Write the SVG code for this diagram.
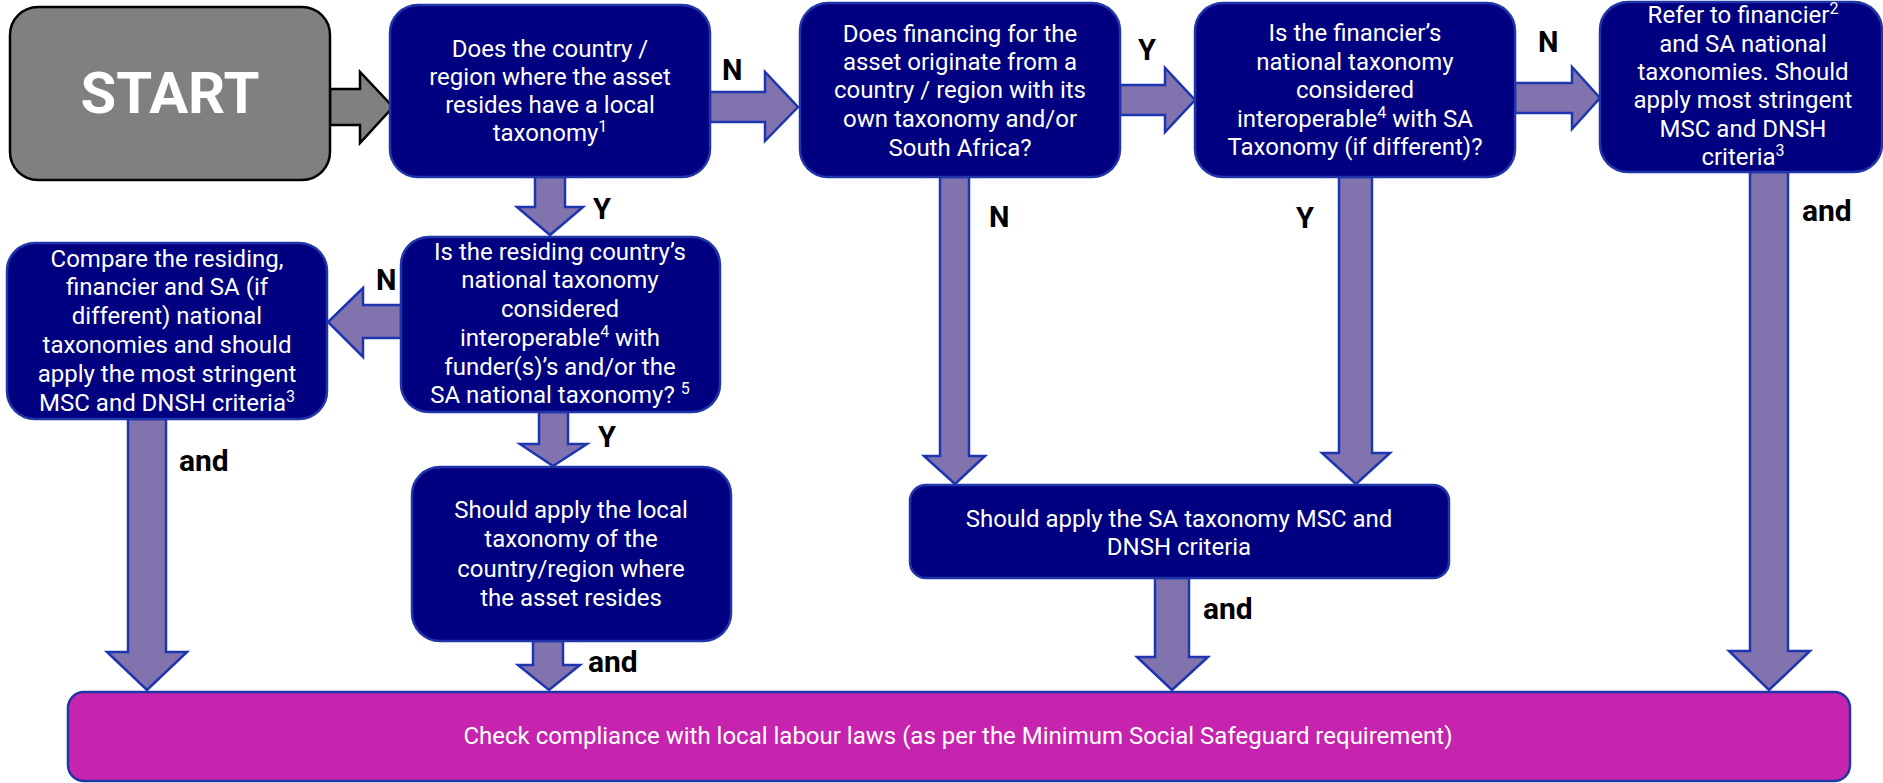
<svg xmlns="http://www.w3.org/2000/svg" width="1883" height="783" viewBox="0 0 1883 783">
<style>
.node{fill:#000080;stroke:#1F35A8;stroke-width:2.5}
.start{fill:#808080;stroke:#000;stroke-width:2.5}
.fin{fill:#C623AE;stroke:#1F35A8;stroke-width:2.5}
.arr{fill:#8073AE;stroke:#1F35B0;stroke-width:2.5;stroke-linejoin:miter}
.garr{fill:#808080;stroke:#000;stroke-width:2.5}
.t{font-family:Roboto,"Liberation Sans",sans-serif;font-size:24px;fill:#fff;text-anchor:middle}
.lbl{font-family:Roboto,"Liberation Sans",sans-serif;font-size:29px;font-weight:bold;fill:#000}
.and{font-family:Roboto,"Liberation Sans",sans-serif;font-size:30px;font-weight:bold;fill:#000}
.sup{font-size:16px}
</style>
<rect width="1883" height="783" fill="#fff"/>
<g id="connectors">
<path class="garr" d="M330,89 L360,89 L360,72 L393,107 L360,143 L360,125 L330,125 Z"/>
<path class="arr" d="M710,92 L765,92 L765,72 L798,107 L765,141 L765,122 L710,122 Z"/>
<path class="arr" d="M1120,85 L1165,85 L1165,68 L1195,100 L1165,132 L1165,115 L1120,115 Z"/>
<path class="arr" d="M1515,83 L1572,83 L1572,67 L1600,98 L1572,129 L1572,113 L1515,113 Z"/>
<path class="arr" d="M535,177 L565,177 L565,207 L583,207 L550,235 L517,207 L535,207 Z"/>
<path class="arr" d="M401,305 L363,305 L363,288 L328,322 L363,357 L363,338 L401,338 Z"/>
<path class="arr" d="M539,412 L568,412 L568,444 L587,444 L553,466 L520,444 L539,444 Z"/>
<path class="arr" d="M128,419 L166,419 L166,652 L187,652 L147,690 L107,652 L128,652 Z"/>
<path class="arr" d="M533,641 L563,641 L563,665 L580,665 L549,690 L518,665 L533,665 Z"/>
<path class="arr" d="M940,177 L969,177 L969,456 L985,456 L955,484 L924,456 L940,456 Z"/>
<path class="arr" d="M1339,177 L1372,177 L1372,453 L1390,453 L1356,484 L1322,453 L1339,453 Z"/>
<path class="arr" d="M1155,578 L1189,578 L1189,657 L1208,657 L1172,690 L1137,657 L1155,657 Z"/>
<path class="arr" d="M1750,172 L1788,172 L1788,651 L1810,651 L1769,690 L1729,651 L1750,651 Z"/>
<text class="lbl" x="722" y="80">N</text>
<text class="lbl" x="1138" y="60">Y</text>
<text class="lbl" x="1538" y="52">N</text>
<text class="lbl" x="593" y="219">Y</text>
<text class="lbl" x="376" y="290">N</text>
<text class="lbl" x="598" y="447">Y</text>
<text class="lbl" x="989" y="227">N</text>
<text class="lbl" x="1296" y="228">Y</text>
<text class="and" x="179" y="471">and</text>
<text class="and" x="588" y="672">and</text>
<text class="and" x="1203" y="619">and</text>
<text class="and" x="1802" y="221">and</text>
</g>
<g id="start">
<rect class="start" x="10" y="7" width="320" height="173" rx="28"/>
<text x="170" y="113" font-family="Roboto,'Liberation Sans',sans-serif" font-size="58" font-weight="bold" fill="#fff" text-anchor="middle">START</text>
</g>
<g id="q1">
<rect class="node" x="390" y="5" width="320" height="172" rx="28"/>
<text class="t" x="550" y="57">Does the country /</text>
<text class="t" x="550" y="85">region where the asset</text>
<text class="t" x="550" y="113">resides have a local</text>
<text class="t" x="550" y="141">taxonomy<tspan class="sup" baseline-shift="super">1</tspan></text>
</g>
<g id="q2">
<rect class="node" x="800" y="3" width="320" height="174" rx="28"/>
<text class="t" x="960" y="42">Does financing for the</text>
<text class="t" x="960" y="70">asset originate from a</text>
<text class="t" x="960" y="98">country / region with its</text>
<text class="t" x="960" y="127">own taxonomy and/or</text>
<text class="t" x="960" y="156">South Africa?</text>
</g>
<g id="q3">
<rect class="node" x="1195" y="3" width="320" height="174" rx="28"/>
<text class="t" x="1355" y="41">Is the financier’s</text>
<text class="t" x="1355" y="70">national taxonomy</text>
<text class="t" x="1355" y="98">considered</text>
<text class="t" x="1355" y="127">interoperable<tspan class="sup" baseline-shift="super">4</tspan> with SA</text>
<text class="t" x="1355" y="155">Taxonomy (if different)?</text>
</g>
<g id="r4">
<rect class="node" x="1600" y="2" width="282" height="170" rx="28"/>
<text class="t" x="1743" y="23">Refer to financier<tspan class="sup" baseline-shift="super">2</tspan></text>
<text class="t" x="1743" y="52">and SA national</text>
<text class="t" x="1743" y="80">taxonomies. Should</text>
<text class="t" x="1743" y="108">apply most stringent</text>
<text class="t" x="1743" y="137">MSC and DNSH</text>
<text class="t" x="1743" y="165">criteria<tspan class="sup" baseline-shift="super">3</tspan></text>
</g>
<g id="q5">
<rect class="node" x="401" y="237" width="319" height="175" rx="28"/>
<text class="t" x="560" y="260">Is the residing country’s</text>
<text class="t" x="560" y="288">national taxonomy</text>
<text class="t" x="560" y="317">considered</text>
<text class="t" x="560" y="346">interoperable<tspan class="sup" baseline-shift="super">4</tspan> with</text>
<text class="t" x="560" y="375">funder(s)’s and/or the</text>
<text class="t" x="560" y="403">SA national taxonomy? <tspan class="sup" baseline-shift="super">5</tspan></text>
</g>
<g id="r6">
<rect class="node" x="7" y="243" width="320" height="176" rx="28"/>
<text class="t" x="167" y="267">Compare the residing,</text>
<text class="t" x="167" y="295">financier and SA (if</text>
<text class="t" x="167" y="324">different) national</text>
<text class="t" x="167" y="353">taxonomies and should</text>
<text class="t" x="167" y="382">apply the most stringent</text>
<text class="t" x="167" y="411">MSC and DNSH criteria<tspan class="sup" baseline-shift="super">3</tspan></text>
</g>
<g id="r7">
<rect class="node" x="412" y="467" width="319" height="174" rx="28"/>
<text class="t" x="571" y="518">Should apply the local</text>
<text class="t" x="571" y="547">taxonomy of the</text>
<text class="t" x="571" y="577">country/region where</text>
<text class="t" x="571" y="606">the asset resides</text>
</g>
<g id="r8">
<rect class="node" x="910" y="485" width="539" height="93" rx="16"/>
<text class="t" x="1179" y="527">Should apply the SA taxonomy MSC and</text>
<text class="t" x="1179" y="555">DNSH criteria</text>
</g>
<g id="final">
<rect class="fin" x="68" y="692" width="1782" height="89" rx="16"/>
<text class="t" x="958" y="744">Check compliance with local labour laws (as per the Minimum Social Safeguard requirement)</text>
</g>
</svg>
